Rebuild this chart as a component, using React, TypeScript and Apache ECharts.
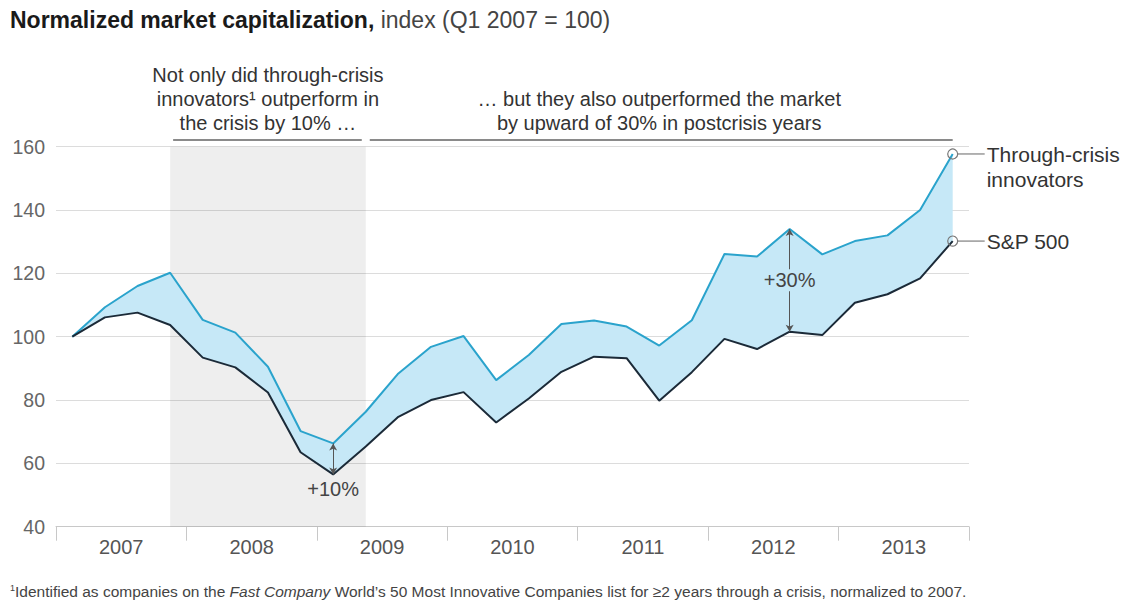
import React, { useEffect, useRef } from 'react';
import * as echarts from 'echarts';

const years = ['2007', '2008', '2009', '2010', '2011', '2012', '2013'];
const quarters = [
  'Q1 2007', 'Q2 2007', 'Q3 2007', 'Q4 2007',
  'Q1 2008', 'Q2 2008', 'Q3 2008', 'Q4 2008',
  'Q1 2009', 'Q2 2009', 'Q3 2009', 'Q4 2009',
  'Q1 2010', 'Q2 2010', 'Q3 2010', 'Q4 2010',
  'Q1 2011', 'Q2 2011', 'Q3 2011', 'Q4 2011',
  'Q1 2012', 'Q2 2012', 'Q3 2012', 'Q4 2012',
  'Q1 2013', 'Q2 2013', 'Q3 2013', 'Q4 2013',
];
const innovators = [100, 109.3, 116, 120.2, 105.3, 101.3, 90.5, 70.2, 66.3, 76.3, 88.4, 96.8, 100.2, 86.3, 94.2, 104, 105.1, 103.2, 97.2, 105.2, 126.1, 125.3, 134, 126, 130.2, 132, 140, 157.7];
const sp500 = [100, 106.1, 107.6, 103.7, 93.4, 90.3, 82.4, 63.5, 56.5, 65.3, 74.7, 80, 82.5, 72.9, 80.5, 88.9, 93.7, 93.2, 79.8, 88.8, 99.3, 96.1, 101.6, 100.5, 110.7, 113.4, 118.4, 130.2];
const yMin = 40;
const yMax = 160;
const yInterval = 20;
const crisisStart = 'Q4 2007';
const crisisEnd = 'Q2 2009';
const gap10Index = 8;
const gap30Index = 22;

const FONT = '"Liberation Sans", Arial, sans-serif';
const BLUE = '#2aa3cc';
const NAVY = '#1b2a38';
const FILL = '#c6e8f7';

export default function App() {
  const ref = useRef<HTMLDivElement>(null);
  useEffect(() => {
    document.body.style.margin = '0';
    const chart = echarts.init(ref.current!, null, { renderer: 'svg' });
    const diff = innovators.map((v, i) => +(v - sp500[i]).toFixed(2));
    const last = quarters.length - 1;
    const option: any = {
      animation: false,
      textStyle: { fontFamily: FONT },
      grid: { left: 56, right: 152, top: 146.7, bottom: 74.3, containLabel: false, outerBoundsMode: 'none' },
      xAxis: [
        {
          type: 'category',
          data: years,
          boundaryGap: true,
          axisLine: { lineStyle: { color: '#c8c8c8', width: 1 } },
          axisTick: { show: true, length: 14, lineStyle: { color: '#c8c8c8' } },
          axisLabel: { fontSize: 20, color: '#555', margin: 10, fontFamily: FONT },
          splitLine: { show: false },
        },
        {
          type: 'category',
          data: quarters,
          boundaryGap: true,
          show: false,
        },
      ],
      yAxis: {
        type: 'value',
        min: yMin,
        max: yMax,
        interval: yInterval,
        axisLine: { show: false },
        axisTick: { show: false },
        axisLabel: { fontSize: 19.5, color: '#666', margin: 11, fontFamily: FONT },
        splitLine: { lineStyle: { color: '#dcdcdc', width: 1 } },
      },
      series: [
        {
          name: 'base',
          type: 'line',
          xAxisIndex: 1,
          data: sp500,
          stack: 'band',
          symbol: 'none',
          silent: true,
          lineStyle: { opacity: 0 },
          z: 2,
          markArea: {
            silent: true,
            itemStyle: { color: 'rgba(0,0,0,0.068)' },
            data: [[{ xAxis: crisisStart }, { xAxis: crisisEnd }]],
          },
        },
        {
          name: 'gap',
          type: 'line',
          xAxisIndex: 1,
          data: diff,
          stack: 'band',
          symbol: 'none',
          silent: true,
          lineStyle: { opacity: 0 },
          areaStyle: { color: FILL, opacity: 1 },
          z: 2,
        },
        {
          name: 'Through-crisis innovators',
          type: 'line',
          xAxisIndex: 1,
          data: innovators,
          symbol: 'none',
          lineStyle: { color: BLUE, width: 2 },
          z: 4,
          markPoint: {
            z: 6,
            silent: true,
            data: [
              {
                coord: [quarters[last], innovators[last]],
                symbol: 'circle',
                symbolSize: 10,
                itemStyle: { color: 'rgba(255,255,255,0)', borderColor: '#777', borderWidth: 1.2 },
                label: { show: false },
              },
              {
                coord: [quarters[gap30Index], (innovators[gap30Index] + sp500[gap30Index]) / 2],
                symbol: 'rect',
                symbolSize: [56, 22],
                itemStyle: { color: FILL },
                label: { show: true, position: 'inside', formatter: '+30%', fontSize: 20, color: '#444', fontFamily: FONT },
              },
            ],
          },
        },
        {
          name: 'S&P 500',
          type: 'line',
          xAxisIndex: 1,
          data: sp500,
          symbol: 'none',
          lineStyle: { color: NAVY, width: 2 },
          z: 4,
          markPoint: {
            z: 6,
            silent: true,
            data: [
              {
                coord: [quarters[last], sp500[last]],
                symbol: 'circle',
                symbolSize: 10,
                itemStyle: { color: 'rgba(255,255,255,0)', borderColor: '#777', borderWidth: 1.2 },
                label: { show: false },
              },
            ],
          },
          markLine: {
            z: 5,
            silent: true,
            symbol: ['arrow', 'arrow'],
            symbolSize: [6, 7],
            lineStyle: { color: '#555', width: 1, type: 'solid' },
            label: { show: false },
            data: [
              [
                { coord: [quarters[gap10Index], sp500[gap10Index]], label: { show: true, position: 'start', formatter: '+10%', fontSize: 20, color: '#444', distance: 5, fontFamily: FONT } },
                { coord: [quarters[gap10Index], innovators[gap10Index]] },
              ],
              [
                { coord: [quarters[gap30Index], sp500[gap30Index]] },
                { coord: [quarters[gap30Index], innovators[gap30Index]] },
              ],
            ],
          },
        },
      ],
    };
    chart.setOption(option);

    const px = (i: number, v: number) => chart.convertToPixel({ seriesIndex: 3 }, [i, v]) as number[];
    const endTop = px(last, innovators[last]);
    const endBot = px(last, sp500[last]);
    const cs = px(quarters.indexOf(crisisStart), 100);
    const ce = px(quarters.indexOf(crisisEnd), 100);
    const barY = 140;

    chart.setOption({
      graphic: [
        {
          type: 'text',
          left: 10,
          top: 8,
          style: {
            text: '{b|Normalized market capitalization,}{n| index (Q1 2007 = 100)}',
            rich: {
              b: { fontSize: 23, fontWeight: 'bold', fill: '#1a1a1a', fontFamily: FONT },
              n: { fontSize: 23, fill: '#444', fontFamily: FONT },
            },
          },
        },
        {
          type: 'text',
          x: (cs[0] + ce[0]) / 2,
          y: 63,
          style: {
            text: 'Not only did through-crisis\ninnovators¹ outperform in\nthe crisis by 10% …',
            fontSize: 20,
            lineHeight: 24,
            fill: '#333',
            fontFamily: FONT,
            align: 'center',
            verticalAlign: 'top',
          },
        },
        {
          type: 'text',
          x: (ce[0] + endTop[0]) / 2,
          y: 87,
          style: {
            text: '… but they also outperformed the market\nby upward of 30% in postcrisis years',
            fontSize: 20,
            lineHeight: 24,
            fill: '#333',
            fontFamily: FONT,
            align: 'center',
            verticalAlign: 'top',
          },
        },
        {
          type: 'line',
          shape: { x1: cs[0] + 3, y1: barY, x2: ce[0] - 4, y2: barY },
          style: { stroke: '#8a8a8a', lineWidth: 2 },
        },
        {
          type: 'line',
          shape: { x1: ce[0] + 4, y1: barY, x2: endTop[0], y2: barY },
          style: { stroke: '#8a8a8a', lineWidth: 2 },
        },
        {
          type: 'line',
          shape: { x1: endTop[0] + 5, y1: endTop[1], x2: endTop[0] + 32, y2: endTop[1] },
          style: { stroke: '#666', lineWidth: 1 },
        },
        {
          type: 'line',
          shape: { x1: endBot[0] + 5, y1: endBot[1], x2: endBot[0] + 32, y2: endBot[1] },
          style: { stroke: '#666', lineWidth: 1 },
        },
        {
          type: 'text',
          x: endTop[0] + 34,
          y: endTop[1] - 12,
          style: {
            text: 'Through-crisis\ninnovators',
            fontSize: 21,
            lineHeight: 25,
            fill: '#333',
            fontFamily: FONT,
            verticalAlign: 'top',
          },
        },
        {
          type: 'text',
          x: endBot[0] + 34,
          y: endBot[1],
          style: {
            text: 'S&P 500',
            fontSize: 21,
            fill: '#333',
            fontFamily: FONT,
            verticalAlign: 'middle',
          },
        },
        {
          type: 'text',
          left: 10,
          top: 583,
          style: {
            text: '{s|1}{n|Identified as companies on the }{i|Fast Company}{n| World\u2019s 50 Most Innovative Companies list for \u22652 years through a crisis, normalized to 2007.}',
            rich: {
              s: { fontSize: 9, fill: '#444', fontFamily: FONT, verticalAlign: 'top', padding: [0, 0, 7, 0] },
              n: { fontSize: 15.5, fill: '#444', fontFamily: FONT },
              i: { fontSize: 15.5, fill: '#444', fontFamily: FONT, fontStyle: 'italic' },
            },
          },
        },
      ],
    });
    return () => chart.dispose();
  }, []);
  return <div ref={ref} style={{ width: 1121, height: 601 }} />;
}
